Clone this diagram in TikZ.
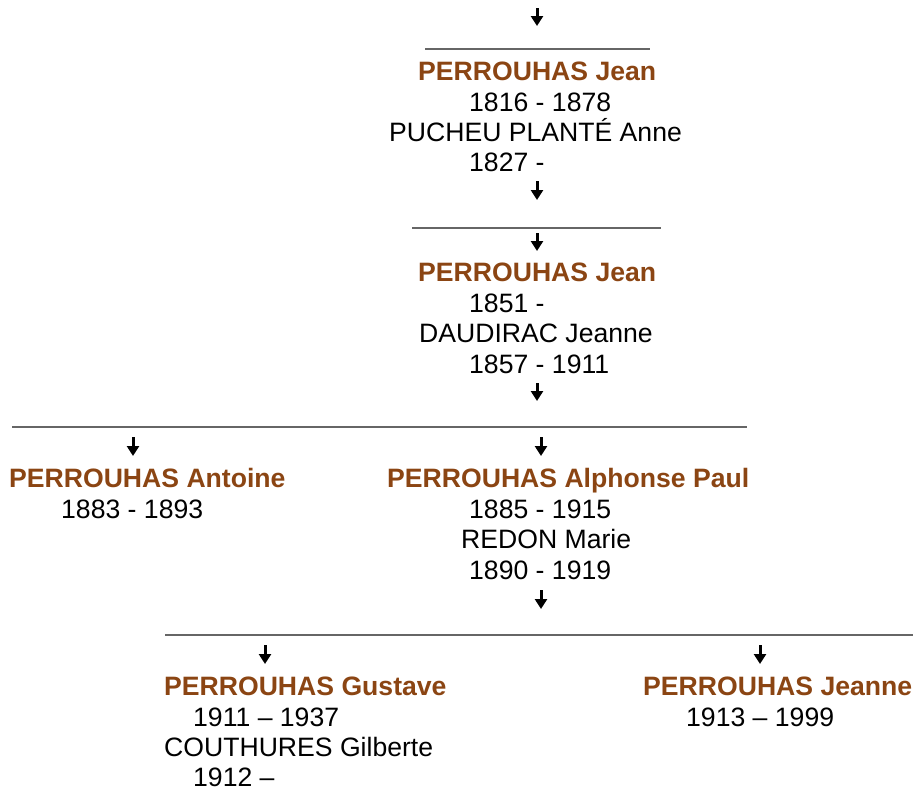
\documentclass[tikz,border=0pt]{standalone}
\usepackage{fontspec}
\setmainfont{Liberation Sans}
\usetikzlibrary{arrows.meta}
\definecolor{namebrown}{RGB}{139,69,19}

\begin{document}
\begin{tikzpicture}[x=1pt,y=-1pt]
					\tikzstyle{person}=[anchor=base west,inner sep=0pt,font=\fontsize{26.6}{30}\selectfont\bfseries,text=namebrown]
					\tikzstyle{info}=[anchor=base west,inner sep=0pt,font=\fontsize{26.6}{30}\selectfont]
					\tikzstyle{arr}=[line width=3pt,-{Triangle[length=10pt,width=12pt]}]
					\tikzstyle{bar}=[line width=1.3pt,black!60]
					\useasboundingbox (0,0) rectangle (915,790);
					% generation 1
					\node[person] (jean1) at (418,80) {PERROUHAS Jean};
					\node[info] (jean1d) at (469,111) {1816 - 1878};
					\node[info] (anne) at (389,141) {PUCHEU PLANTÉ Anne};
					\node[info] (anned) at (469,171) {1827 -};
					% generation 2
					\node[person] (jean2) at (418,281) {PERROUHAS Jean};
					\node[info] (jean2d) at (469,312) {1851 -};
					\node[info] (jeanne) at (419,342) {DAUDIRAC Jeanne};
					\node[info] (jeanned) at (469,373) {1857 - 1911};
					% generation 3
					\node[person] (antoine) at (9,487) {PERROUHAS Antoine};
					\node[info] (antoined) at (61,518) {1883 - 1893};
					\node[person] (alphonse) at (387,487) {PERROUHAS Alphonse Paul};
					\node[info] (alphonsed) at (469,518) {1885 - 1915};
					\node[info] (marie) at (461,548) {REDON Marie};
					\node[info] (maried) at (469,579) {1890 - 1919};
					% generation 4
					\node[person] (gustave) at (164,695) {PERROUHAS Gustave};
					\node[info] (gustaved) at (193,726) {1911 -- 1937};
					\node[info] (gilberte) at (164,756) {COUTHURES Gilberte};
					\node[info] (gilberted) at (193,786) {1912 --};
					\node[person] (jeanne4) at (643,695) {PERROUHAS Jeanne};
					\node[info] (jeanne4d) at (686,726) {1913 -- 1999};
					% bars
					\coordinate (b1l) at (425,49);
					\coordinate (b1r) at (650,49);
					\coordinate (b2l) at (412,228);
					\coordinate (b2r) at (661,228);
					\coordinate (b3l) at (12,427);
					\coordinate (b3r) at (747,427);
					\coordinate (b4l) at (165,635);
					\coordinate (b4r) at (913,635);
					\draw[bar] (b1l) -- (b1r);
					\draw[bar] (b2l) -- (b2r);
					\draw[bar] (b3l) -- (b3r);
					\draw[bar] (b4l) -- (b4r);
					% arrows
					\coordinate (a1s) at (537,8);
					\coordinate (a1e) at (537,26);
					\coordinate (a2s) at (537,181);
					\coordinate (a2e) at (537,200);
					\coordinate (a3s) at (537,233);
					\coordinate (a3e) at (537,251);
					\coordinate (a4s) at (537,383);
					\coordinate (a4e) at (537,401);
					\coordinate (a5s) at (133,437);
					\coordinate (a5e) at (133,456);
					\coordinate (a6s) at (541,437);
					\coordinate (a6e) at (541,456);
					\coordinate (a7s) at (541,590);
					\coordinate (a7e) at (541,609);
					\coordinate (a8s) at (265,645);
					\coordinate (a8e) at (265,664);
					\coordinate (a9s) at (760,645);
					\coordinate (a9e) at (760,664);
					\draw[arr] (a1s) -- (a1e);
					\draw[arr] (a2s) -- (a2e);
					\draw[arr] (a3s) -- (a3e);
					\draw[arr] (a4s) -- (a4e);
					\draw[arr] (a5s) -- (a5e);
					\draw[arr] (a6s) -- (a6e);
					\draw[arr] (a7s) -- (a7e);
					\draw[arr] (a8s) -- (a8e);
					\draw[arr] (a9s) -- (a9e);
\end{tikzpicture}
\end{document}
